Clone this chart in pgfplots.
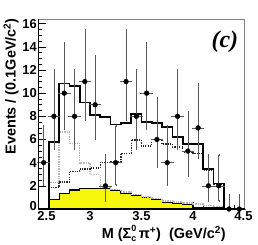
\documentclass[border=0pt]{standalone}
\usepackage{fontspec}
\setmainfont{Liberation Sans}
\newfontfamily\timesfont{Liberation Serif}
\usepackage{pgfplots}
\usepackage{pgfplotstable}
\pgfplotsset{compat=1.18}
\definecolor{histyellow}{rgb}{0.97,0.97,0.05}

\pgfplotstableread{
x y ep em
2.55 4 3.16 1.91
2.65 8 3.98 2.77
2.75 10 4.27 3.11
2.85 8 3.98 2.77
2.95 11 4.41 3.27
3.05 9 4.15 2.94
3.15 2 2.64 1.29
3.25 4 3.16 1.91
3.35 11 4.41 3.27
3.45 8 3.98 2.77
3.55 10 4.27 3.11
3.65 6 3.58 2.38
3.75 4 3.16 1.91
3.85 8 3.98 2.77
3.95 5 3.38 2.16
4.05 7 3.77 2.58
4.15 2 2.64 1.29
4.25 2 2.64 1.29
4.35 0 1.15 0
4.45 0 1.15 0
}\datatable

\pgfplotstableread{
x total grey black yellow
2.5 0 0 0 0
2.6 5.8 2.3 1.85 0.85
2.7 10.83 6.66 2.33 1.36
2.8 10.6 5.67 3.26 1.64
2.9 9.2 3.97 3.46 1.76
3.0 8.08 2.98 3.54 1.8
3.1 7.94 1.9 4.03 1.76
3.2 7.3 1.7 4.11 1.6
3.3 7.43 1.45 4.82 1.36
3.4 8.17 1.25 5.96 1.13
3.5 7.5 1.05 5.45 0.99
3.6 7.45 0.9 6.0 0.8
3.7 7.1 0.7 5.6 0.6
3.8 6.2 0.6 5.35 0.45
3.9 5.6 0.5 4.9 0.35
4.0 5.6 0.43 4.8 0.15
4.1 3.46 0.3 3.35 0.12
4.2 2.2 0.2 2.1 0.1
4.3 0 0 0 0
4.4 0 0 0 0
4.5 0 0 0 0
}\histtable

\begin{document}
\begin{tikzpicture}
\begin{axis}[
  name=main,
  scale only axis,
  width=206bp, height=190bp,
  xmin=2.5, xmax=4.5, ymin=0, ymax=16.4,
  xtick={3,3.5,4,4.5},
  xticklabels={3,3.5,4,4.5\hspace*{2bp}},
  extra x ticks={2.5},
  extra x tick labels={2.5},
  extra x tick style={xticklabel style={xshift=8bp}},
  minor x tick num=4,
  ytick={2,4,6,8,10,12,14,16},
  yticklabels={2,4,6,8,10,12,14,16},
  extra y ticks={0},
  extra y tick labels={0},
  extra y tick style={yticklabel style={yshift=3bp}},
  minor y tick num=3,
  tick align=inside,
  xtick pos=left, ytick pos=left,
  major tick length=7bp, minor tick length=3.5bp,
  every tick/.style={black, line width=0.5pt},
  axis line style={gray, line width=0.6pt},
  tick label style={font=\bfseries\fontsize{13}{13}\selectfont},
  xticklabel style={inner sep=1pt, yshift=-1.5bp},
  yticklabel style={inner sep=1.5pt},
  clip=false,
]
\addplot[const plot, fill=histyellow, draw=black, line width=1.1pt] table[x=x,y=yellow]{\histtable} \closedcycle;
\addplot[const plot, gray!55, line width=1.5pt, dash pattern=on 1.4pt off 1pt] table[x=x,y=grey]{\histtable};
\addplot[const plot, black!85, line width=1.3pt, dash pattern=on 1.2pt off 1.2pt] table[x=x,y=black]{\histtable};
\addplot[const plot, black, line width=1.8pt] table[x=x,y=total]{\histtable};
\addplot[only marks, mark=*, mark size=2.4pt, black,
  error bars/.cd, x dir=both, x fixed=0.05, y dir=both, y explicit,
  error bar style={black!65, line width=0.6pt},
  error mark options={black!65, mark size=1.2pt, line width=0.5pt}]
  table[x=x, y=y, y error plus=ep, y error minus=em]{\datatable};
\draw[black, line width=0.7pt] (rel axis cs:0,0) -- (rel axis cs:1,0);
\draw[black, line width=0.7pt] (rel axis cs:0,0) -- (rel axis cs:0,1);
\node[font=\timesfont\bfseries\itshape\fontsize{24}{24}\selectfont, anchor=north east, inner sep=0pt] at (rel axis cs:0.97,0.94) {(c)};
\node[rotate=90, anchor=east, inner sep=0pt, font=\bfseries\fontsize{14.5}{14.5}\selectfont] at (rel axis cs:-0.133,1.005) {Events / (0.1GeV/c\textsuperscript{2})};
\node[anchor=east, inner sep=0pt, font=\bfseries\fontsize{14.5}{14.5}\selectfont] at (rel axis cs:0.91,-0.13) {M (Σ\rlap{\raisebox{0.9ex}{\fontsize{9}{9}\selectfont 0}}\raisebox{-0.35ex}{\fontsize{9}{9}\selectfont c}\,π\textsuperscript{+})~~(GeV/c\textsuperscript{2})};
\end{axis}
\pgfresetboundingbox
\path (main.south west) ++(-38.5bp,-36bp) coordinate (bbsw);
\path (main.north east) ++(13.5bp,19bp) coordinate (bbne);
\useasboundingbox (bbsw) rectangle (bbne);
\end{tikzpicture}
\end{document}
